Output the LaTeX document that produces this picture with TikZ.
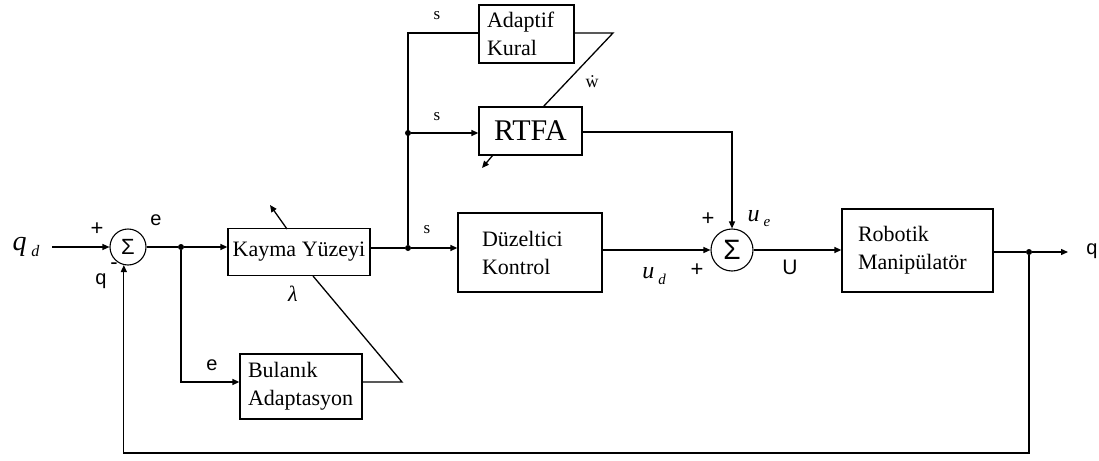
\documentclass[tikz,border=0pt]{standalone}
\usepackage{fontspec}
\setmainfont{Liberation Serif}
\newfontfamily\sansf{Liberation Sans}
\usetikzlibrary{arrows.meta,calc}
\begin{document}
\begin{tikzpicture}[x=1pt,y=-1pt,
  wire/.style={line width=1.3pt},
  arr/.style={wire,-{Triangle[length=7pt,width=6pt]}},
  blk/.style={draw,line width=1.3pt,inner ysep=0pt,font=\fontsize{22}{28}\selectfont,align=left},
  sumn/.style={draw,circle,line width=1.1pt,inner sep=0pt},
  dot/.style={circle,fill,inner sep=0pt,minimum size=6pt},
  sl/.style={font=\fontsize{17}{17}\selectfont},
  lab/.style={font=\sansf\fontsize{20}{20}\selectfont},
  pm/.style={font=\sansf\fontsize{22}{22}\selectfont},
]
\useasboundingbox (0,0) rectangle (1099,460);

% blocks
\node[sumn,minimum size=36pt,font=\sansf\fontsize{22}{22}\selectfont] (s1) at (128,247) {Σ};
\node[sumn,minimum size=42pt,font=\sansf\fontsize{28}{28}\selectfont] (s2) at (732,250) {Σ};
\node[blk,minimum width=142pt,minimum height=47pt,align=center,inner xsep=0pt] (ky) at (299,252) {Kayma Yüzeyi};
\node[blk,inner xsep=8pt,text width=106pt,minimum height=65pt] (bu) at (301,386.5) {Bulanık\\Adaptasyon};
\node[blk,inner xsep=24pt,text width=96pt,minimum height=79pt] (dk) at (530,252.5) {Düzeltici\\Kontrol};
\node[blk,inner xsep=8pt,text width=79pt,minimum height=58pt] (ak) at (526.5,34) {Adaptif\\Kural};
\node[blk,minimum width=103pt,minimum height=48pt,align=center,inner xsep=0pt,font=\fontsize{30}{30}\selectfont] (rt) at (530.5,131) {RTFA};
\node[blk,inner xsep=16pt,text width=119pt,minimum height=83pt] (rm) at (917.5,250.5) {Robotik\\Manipülatör};

% junctions
\node[dot] (j1) at (181,247) {};
\node[dot] (j2) at (408,248) {};
\node[dot] (j3) at (408,133) {};
\node[dot] (j4) at (1029,252) {};

% coordinates
\coordinate (qin) at (52,247);
\coordinate (qout) at (1068,252);
\coordinate (jtop) at (408,33);
\coordinate (ecorner) at (181,382);
\coordinate (bucorner) at (402,382);
\coordinate (kybot) at (313,276);
\coordinate (akcorner) at (613,33);
\coordinate (rttop) at (543,107);
\coordinate (rtcorner) at (732,132);
\coordinate (fbr) at (1029,453);
\coordinate (kyA) at (287,229);
\coordinate (kyB) at (270,205);
\coordinate (rtA) at (493,155);
\coordinate (rtB) at (482,168);

% main path
\draw[arr] (qin) -- (s1.west);
\draw[wire] (s1.east) -- (j1);
\draw[arr] (j1) -- (ky.west |- j1);
\draw[wire] (ky.east |- j2) -- (j2);
\draw[arr] (j2) -- (dk.west |- j2);
\draw[arr] (dk.east |- s2) -- (s2.west);
\draw[arr] (s2.east) -- (rm.west |- s2);
\draw[wire] (rm.east |- j4) -- (j4);
\draw[arr] (j4) -- (qout);
\draw[arr] (j4) -- (fbr) -| (s1.-103);

% fuzzy branch
\draw[arr] (j1) -- (ecorner) -- (bu.west |- ecorner);
\draw[wire] (bu.east |- bucorner) -- (bucorner) -- (kybot);
\draw[arr] (kyA) -- (kyB);

% upper branches
\draw[wire] (j2) -- (jtop) -- (ak.west |- jtop);
\draw[arr] (j3) -- (rt.west |- j3);
\draw[wire] (ak.east |- akcorner) -- (akcorner) -- (rttop);
\draw[arr] (rtA) -- (rtB);
\draw[arr] (rt.east |- rtcorner) -- (rtcorner) -- (s2.north);

% labels
\node[font=\itshape\fontsize{28}{28}\selectfont] (lqd) at (26,247) {q\,\raisebox{-6pt}{\fontsize{16}{16}\selectfont d}};
\node[pm] (lp1) at (97,229) {+};
\node[pm] (lm1) at (114,266) {-};
\node[lab] (lq1) at (101,281) {q};
\node[lab] (le1) at (156,220) {e};
\node[lab] (le2) at (212,365) {e};
\node[sl] (ls1) at (437,16) {s};
\node[sl] (ls2) at (437,117) {s};
\node[sl] (ls3) at (427,230) {s};
\node[font=\itshape\fontsize{22}{22}\selectfont] (llam) at (293,294) {λ};
\node[font=\fontsize{18}{18}\selectfont] (lw) at (592,82) {\.{w}};
\node[pm] (lp2) at (708,219) {+};
\node[pm] (lp3) at (697,270) {+};
\node[font=\itshape\fontsize{24}{24}\selectfont] (lue) at (759,219) {u\,\raisebox{-5pt}{\fontsize{15}{15}\selectfont e}};
\node[font=\itshape\fontsize{24}{24}\selectfont] (lud) at (654,276) {u\,\raisebox{-6pt}{\fontsize{15}{15}\selectfont d}};
\node[lab,font=\sansf\fontsize{21}{21}\selectfont] (lU) at (790,267) {U};
\node[lab] (lq2) at (1092,251) {q};
\end{tikzpicture}
\end{document}
